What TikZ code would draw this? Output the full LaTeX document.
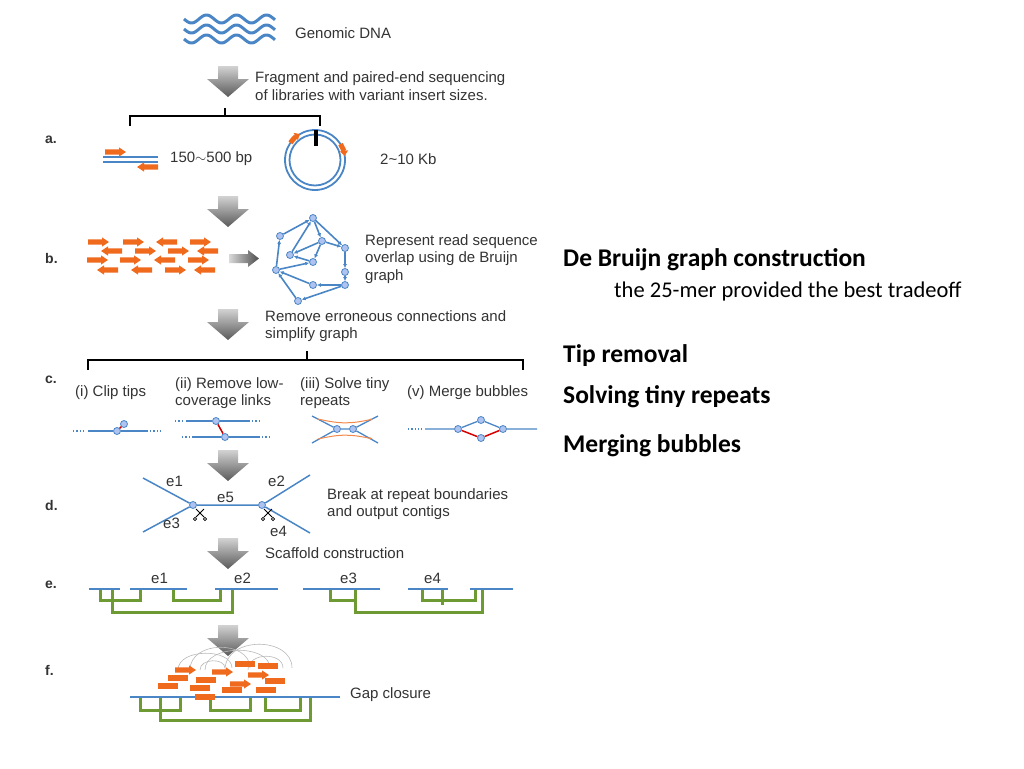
\documentclass[tikz,border=0pt]{standalone}
\usepackage{fontspec}
\setmainfont{Carlito}
\newfontfamily\hv{Liberation Sans}
\usetikzlibrary{arrows.meta,shadings}
\definecolor{dblue}{HTML}{4A86C5}
\definecolor{dor}{HTML}{F06A1E}
\definecolor{dgr}{HTML}{6E9A34}
\definecolor{dtx}{HTML}{333333}
\definecolor{vfill}{HTML}{AFC3F0}
\begin{document}
\begin{tikzpicture}[x=1pt,y=-1pt,
  lt/.style={font=\hv\fontsize{15}{17.5}\selectfont,text=dtx,anchor=west,inner sep=0,align=left},
  lab/.style={font=\hv\bfseries\fontsize{14}{16}\selectfont,text=dtx,anchor=west,inner sep=0},
  rt/.style={font=\bfseries\fontsize{25.5}{30}\selectfont,anchor=west,inner sep=0},
  bl/.style={draw=dblue,line width=2pt},
  gl/.style={draw=dgr,line width=3pt},
  vx/.style={circle,draw=dblue,fill=vfill,line width=0.8pt,minimum size=7pt,inner sep=0},
  ge/.style={draw=dblue,line width=1.6pt,-{Latex[length=4pt,width=4pt]}},
  garrow/.pic={\shade[top color=gray!35,bottom color=black!65] (-10,0)--(10,0)--(10,13)--(21,13)--(0,31)--(-21,13)--(-10,13)--cycle;},
  rdR/.pic={\fill[dor] (-10,-2.6)--(4,-2.6)--(4,-4.6)--(11,0)--(4,4.6)--(4,2.6)--(-10,2.6)--cycle;},
  rdL/.pic={\fill[dor] (10,-2.6)--(-4,-2.6)--(-4,-4.6)--(-11,0)--(-4,4.6)--(-4,2.6)--(10,2.6)--cycle;},
  rdB/.pic={\fill[dor] (-10,-2.6) rectangle (10,2.6);}
]
\useasboundingbox (0,0) rectangle (1024,768);
% DNA
\foreach \yy in {19,29,39}
  \draw[dblue,line width=3pt] plot[domain=184:275,samples=80,smooth] (\x,{\yy+4*sin((\x-184)*12)});
\node[lt] (gdna) at (295,33) {Genomic DNA};
% arrows
\pic at (228,66) {garrow};
\pic at (228,196) {garrow};
\pic at (228,309) {garrow};
\pic at (228,450) {garrow};
\pic at (228,538) {garrow};
\pic at (228,625) {garrow};
\node[lt] (t1) at (255,86) {Fragment and paired-end sequencing\\of libraries with variant insert sizes.};
% bracket a
\draw[black,line width=1.6pt] (130,126)--(130,116)--(320,116)--(320,126) (225,116)--(225,108);
\node[lab] (la) at (45,140) {a.};
\draw[dblue,line width=1.5pt] (103,157)--(158,157) (103,162)--(158,162);
\pic at (115,152) {rdR};
\pic at (148,167) {rdL};
\node[lt] (t150) at (170,159) {150$\sim$500 bp};
\draw[dblue,line width=1.8pt] (315,160) circle (30) (315,160) circle (25.5);
\draw[black,line width=4pt] (316,130)--(316,146);
\draw[dor,line width=5pt,-{Triangle[length=5pt,width=8pt]}] (315,160) ++(-145:30) arc[start angle=-145,end angle=-120,radius=30];
\draw[dor,line width=5pt,-{Triangle[length=5pt,width=8pt]}] (315,160) ++(-32:30) arc[start angle=-32,end angle=-8,radius=30];
\node[lt] (t210) at (380,159) {2\textasciitilde10 Kb};
% b
\node[lab] (lb) at (45,258) {b.};
\foreach \xx/\d in {98/R,133/R,167/L,200/R} \pic at (\xx,242) {rd\d};
\foreach \xx/\d in {112/L,145/R,178/R,208/L} \pic at (\xx,251) {rd\d};
\foreach \xx/\d in {97/R,130/R,165/L,198/R} \pic at (\xx,260) {rd\d};
\foreach \xx/\d in {108/L,142/L,175/R,205/L} \pic at (\xx,270) {rd\d};
\shade[left color=gray!30,right color=black!70] (229,254) rectangle (248,263) (248,250)--(259,258.5)--(248,267)--cycle;
\node[vx] (g1) at (313,218) {};
\node[vx] (g2) at (280,236) {};
\node[vx] (g3) at (322,241) {};
\node[vx] (g4) at (345,248) {};
\node[vx] (g5) at (290,255) {};
\node[vx] (g6) at (313,262) {};
\node[vx] (g7) at (276,270) {};
\node[vx] (g8) at (313,285) {};
\node[vx] (g9) at (345,285) {};
\node[vx] (g10) at (298,301) {};
\node[vx] (g11) at (345,272) {};
\draw[ge] (g2)--(g1); \draw[ge] (g1)--(g3); \draw[ge] (g3)--(g4);
\draw[ge] (g4)--(g11); \draw[ge] (g11)--(g9); \draw[ge] (g9)--(g10);
\draw[ge] (g10)--(g7); \draw[ge] (g7)--(g2); \draw[ge] (g3)--(g6);
\draw[ge] (g7)--(g6); \draw[ge] (g6)--(g5); \draw[ge] (g5)--(g1);
\draw[ge] (g9)--(g8); \draw[ge] (g8)--(g7); \draw[ge] (g3)--(g5);
\draw[ge] (g1)--(g4);
\node[lt] (t2) at (365,259) {Represent read sequence\\overlap using de Bruijn\\graph};
\node[lt] (t3) at (265,326) {Remove erroneous connections and\\simplify graph};
% c
\draw[black,line width=1.6pt] (88,370)--(88,360)--(523,360)--(523,370) (307,360)--(307,351);
\node[lab] (lc) at (45,380) {c.};
\node[lt] (c1) at (75,393) {(i) Clip tips};
\node[lt] (c2) at (175,393) {(ii) Remove low-\\coverage links};
\node[lt] (c3) at (300,393) {(iii) Solve tiny\\repeats};
\node[lt] (c4) at (407,393) {(v) Merge bubbles};
% (i)
\draw[dblue,line width=1.3pt,dotted] (73,431)--(86,431) (150,431)--(162,431);
\node[vx] (i1) at (117,431) {}; \node[vx] (i2) at (124,424) {};
\draw[bl,line width=1.3pt] (88,431)--(i1)--(148,431);
\draw[red!80!black,line width=1.5pt] (i1)--(i2);
% (ii)
\node[vx] (ii1) at (216,421) {}; \node[vx] (ii2) at (225,437) {};
\draw[dblue,line width=1.3pt,dotted] (175,421)--(184,421) (252,421)--(260,421) (182,437)--(190,437) (262,437)--(271,437);
\draw[dblue,line width=1.3pt] (186,421)--(ii1)--(250,421) (192,437)--(ii2)--(260,437);
\draw[red!80!black,line width=1.5pt] (ii1)--(ii2);
% (iii)
\node[vx] (r1) at (337,429) {}; \node[vx] (r2) at (353,429) {};
\draw[dblue,line width=1.3pt] (312,416)--(r1)--(r2)--(378,416) (312,443)--(r1) (r2)--(378,443);
\draw[dor!80,line width=1pt,-{Latex[length=3pt]}] (318,419) .. controls (340,424) and (350,424) .. (373,419);
\draw[dor!80,line width=1pt,-{Latex[length=3pt]}] (318,439) .. controls (340,434) and (350,434) .. (373,439);
% (v)
\node[vx] (m1) at (458,429) {}; \node[vx] (m2) at (481,420) {};
\node[vx] (m3) at (481,438) {}; \node[vx] (m4) at (503,429) {};
\draw[dblue,line width=1.3pt,dotted] (408,429)--(422,429);
\draw[dblue,line width=1.3pt] (425,429)--(m1)--(m2)--(m4)--(537,429);
\draw[red!85!black,line width=1.5pt] (m1)--(m3)--(m4);
% d
\node[lab] (ld) at (45,505) {d.};
\node[vx] (d1) at (193,505) {}; \node[vx] (d2) at (262,505) {};
\draw[dblue,line width=1.5pt] (143,478)--(d1)--(143,532) (d1)--(d2) (310,475)--(d2)--(310,533);
\node[lt] at (166,481) {e1};
\node[lt] at (268,481) {e2};
\node[lt] at (217,497) {e5};
\node[lt] at (163,523) {e3};
\node[lt] at (270,531) {e4};
\foreach \sx in {200,268}{
  \draw[black,line width=1pt] (\sx-4,509)--(\sx+4,517) (\sx+4,509)--(\sx-4,517);
  \draw[black,line width=0.8pt] (\sx-5,519) circle (1.6) (\sx+5,519) circle (1.6);}
\node[lt] (t4) at (327,504) {Break at repeat boundaries\\and output contigs};
\node[lt] (t5) at (265,553) {Scaffold construction};
% e
\node[lab] (le) at (45,585) {e.};
\node[lt] at (151,578) {e1};
\node[lt] at (234,578) {e2};
\node[lt] at (340,578) {e3};
\node[lt] at (424,578) {e4};
\draw[gl] (100,589)--(100,600)--(140,600)--(140,589);
\draw[gl] (112,589)--(112,612)--(232,612)--(232,589);
\draw[gl] (173,589)--(173,600)--(220,600)--(220,589);
\draw[gl] (330,589)--(330,600)--(355,600)--(355,589);
\draw[gl] (355,600)--(355,612)--(482,612)--(482,589);
\draw[gl] (422,589)--(422,600)--(475,600)--(475,589);
\draw[gl] (442,589)--(442,605);
\draw[bl] (89,589)--(120,589) (130,589)--(187,589) (215,589)--(278,589);
\draw[bl] (303,589)--(380,589) (408,589)--(448,589) (470,589)--(513,589);
% f
\node[lab] (lf) at (45,670) {f.};
\foreach \a/\b/\h in {178/232/22,190/250/30,205/270/26,225/292/34,248/283/18,200/225/12}
  \draw[gray!55,line width=0.6pt] (\a,670) .. controls (\a,670-\h) and (\b,670-\h) .. (\b,668);
\foreach \xx/\yy/\d in {245/664/B,268/666/B,185/670/R,222/672/R,258/675/R,178/678/B,206/680/B,240/684/R,275/681/B,168/686/B,200/688/B,232/690/B,266/690/B}
  \pic at (\xx,\yy) {rd\d};
\draw[gl] (140,697)--(140,710)--(180,710)--(180,697);
\draw[gl] (160,697)--(160,720)--(310,720)--(310,697);
\draw[gl] (210,697)--(210,710)--(250,710)--(250,697);
\draw[gl] (265,697)--(265,710)--(300,710)--(300,697);
\draw[bl] (130,697)--(340,697);
\pic at (205,697) {rdB};
\node[lt] (t6) at (350,695) {Gap closure};
% right side
\node[rt] (r1t) at (563,260) {De Bruijn graph construction};
\node[anchor=west,inner sep=0,font=\fontsize{22.5}{26}\selectfont] (r2t) at (614,291) {the 25-mer provided the best tradeoff};
\node[rt] (r3t) at (563,356) {Tip removal};
\node[rt] (r4t) at (563,397) {Solving tiny repeats};
\node[rt] (r5t) at (563,446) {Merging bubbles};
\end{tikzpicture}
\end{document}
